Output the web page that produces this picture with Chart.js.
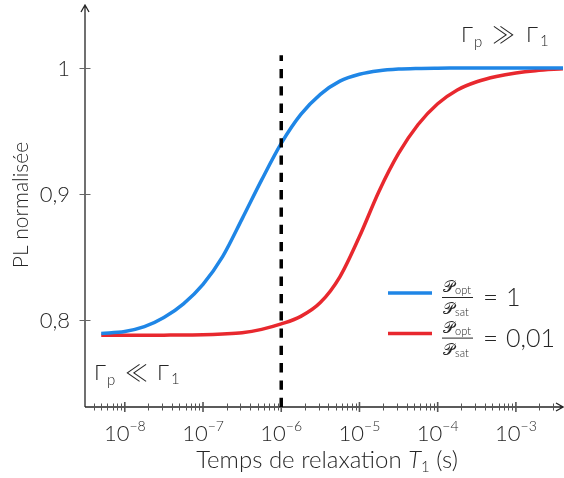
<!DOCTYPE html>
<html>
<head>
<meta charset="utf-8">
<script src="https://cdn.jsdelivr.net/npm/chart.js@4.4.0/dist/chart.umd.min.js"></script>
<style>
html, body { margin: 0; padding: 0; background: #fff; }
</style>
</head>
<body>
<canvas id="mycanvas" width="564" height="478"></canvas>
<script>
// values (T1 in seconds, PL normalised)
var t1 = [5.0e-9, 1.0e-8, 1.78e-8, 3.16e-8, 5.62e-8, 1.0e-7, 1.78e-7, 3.16e-7, 5.62e-7, 1.0e-6, 1.78e-6, 3.16e-6, 5.62e-6, 1.0e-5, 1.78e-5, 3.16e-5, 5.62e-5, 1.0e-4, 1.78e-4, 3.16e-4, 5.62e-4, 1.0e-3, 1.78e-3, 4.0e-3];
var bluePL = [0.789, 0.7905, 0.7943, 0.8016, 0.8125, 0.828, 0.850, 0.880, 0.911, 0.940, 0.963, 0.979, 0.9895, 0.995, 0.9978, 0.9991, 0.9996, 0.9998, 0.9999, 1.0, 1.0, 1.0, 1.0, 1.0];
var redPL = [0.7875, 0.7875, 0.7875, 0.7876, 0.7877, 0.7879, 0.7885, 0.7895, 0.7922, 0.7965, 0.8025, 0.8135, 0.834, 0.866, 0.902, 0.932, 0.955, 0.9715, 0.9825, 0.989, 0.9932, 0.996, 0.9978, 0.9993];
var dashT1 = [1.0e-6, 1.0e-6];
var dashPL = [0.7305, 1.0101];

var xTickExponents = [-8, -7, -6, -5, -4, -3];
var yTicks = [0.8, 0.9, 1];
var yTickLabels = ['0,8', '0,9', '1'];
var legendValues = ['1', '0,01'];

var blue = '#1f86e6';
var red = '#e8282e';
var ink = '#262626';
var FONT = 'Lato, "DejaVu Sans", sans-serif';

function pts(xs, ys) {
	var out = [];
	for (var i in xs) out.push({x: xs[i], y: ys[i]});
	return out;
}

function font(size, italic) {
	return (italic ? 'italic ' : '') + '300 ' + size + 'px ' + FONT;
}

// draws a row of text pieces (sub/superscripts via dy), align 'left' or 'center'
function drawRuns(ctx, x, y, runs, align) {
	var w = 0;
	for (var i in runs) {
		ctx.font = font(runs[i].s, runs[i].i);
		w += ctx.measureText(runs[i].t).width;
	}
	var cx = align == 'center' ? x - w / 2 : x;
	ctx.textAlign = 'left';
	ctx.textBaseline = 'alphabetic';
	for (var j in runs) {
		ctx.font = font(runs[j].s, runs[j].i);
		ctx.fillText(runs[j].t, cx, y + (runs[j].dy || 0));
		cx += ctx.measureText(runs[j].t).width;
	}
}

function put(ctx, t, x, y, s, f) {
	ctx.font = f || font(s);
	ctx.textAlign = 'left';
	ctx.textBaseline = 'alphabetic';
	ctx.fillText(t, x, y);
}

var decor = {
	id: 'decor',
	beforeDatasetsDraw: function(chart) {
		var ctx = chart.ctx, a = chart.chartArea;
		var xs = chart.scales.x, ys = chart.scales.y;
		ctx.save();
		ctx.strokeStyle = ink;
		ctx.fillStyle = ink;
		ctx.lineWidth = 1.3;
		// axes with arrow heads
		ctx.beginPath();
		ctx.moveTo(a.left, a.bottom); ctx.lineTo(a.left, a.top);
		ctx.moveTo(a.left, a.bottom); ctx.lineTo(a.right, a.bottom);
		ctx.moveTo(a.left - 4, a.top + 7); ctx.lineTo(a.left, a.top); ctx.lineTo(a.left + 4, a.top + 7);
		ctx.moveTo(a.right - 7, a.bottom - 4); ctx.lineTo(a.right, a.bottom); ctx.lineTo(a.right - 7, a.bottom + 4);
		ctx.stroke();

		// y ticks
		ctx.strokeStyle = '#666';
		ctx.lineWidth = 1;
		ctx.textAlign = 'right';
		ctx.textBaseline = 'middle';
		ctx.font = font(22);
		for (var i in yTicks) {
			var py = Math.round(ys.getPixelForValue(yTicks[i])) + 0.5;
			ctx.beginPath(); ctx.moveTo(a.left - 5.5, py); ctx.lineTo(a.left + 5.5, py); ctx.stroke();
			ctx.fillText(yTickLabels[i], 70, py);
		}

		// x ticks, minor then major
		ctx.strokeStyle = '#555';
		for (var e = -9; e <= -3; e++) {
			for (var m = 2; m <= 9; m++) {
				var v = m * Math.pow(10, e);
				if (v <= xs.min || v >= xs.max) continue;
				var px = Math.round(xs.getPixelForValue(v)) + 0.5;
				ctx.beginPath(); ctx.moveTo(px, a.bottom - 3.5); ctx.lineTo(px, a.bottom + 3.5); ctx.stroke();
			}
		}
		ctx.lineWidth = 1.6;
		for (var k in xTickExponents) {
			var tx = xs.getPixelForValue(Math.pow(10, xTickExponents[k]));
			ctx.beginPath(); ctx.moveTo(tx, a.bottom - 5); ctx.lineTo(tx, a.bottom + 5); ctx.stroke();
			drawRuns(ctx, tx, 441, [{t: '10', s: 22}, {t: '\u2212' + (-xTickExponents[k]), s: 14, dy: -10}], 'center');
		}

		// axis titles
		drawRuns(ctx, 327, 468, [{t: 'Temps de relaxation ', s: 24}, {t: 'T', s: 24, i: true}, {t: '1', s: 15, dy: 4}, {t: ' (s)', s: 24}], 'center');
		ctx.save();
		ctx.translate(28, 205);
		ctx.rotate(-Math.PI / 2);
		drawRuns(ctx, 0, 0, [{t: 'PL normalisée', s: 21}], 'center');
		ctx.restore();

		// regime labels
		var rel = '300 23px "Noto Sans CJK JP", "DejaVu Sans", sans-serif';
		put(ctx, '\u0393', 461, 42, 22); put(ctx, 'p', 474, 47, 15); put(ctx, '\u226B', 492, 43, 23, rel);
		put(ctx, '\u0393', 526, 42, 22); put(ctx, '1', 540, 46, 15);
		put(ctx, '\u0393', 94, 380, 22); put(ctx, 'p', 107, 385, 15); put(ctx, '\u226A', 125, 381, 23, rel);
		put(ctx, '\u0393', 157, 380, 22); put(ctx, '1', 171, 384, 15);

		// legend with fractions
		var colors = [blue, red];
		for (var r = 0; r < 2; r++) {
			var ly = 293 + r * 40.6;
			ctx.strokeStyle = colors[r];
			ctx.lineWidth = 3.5;
			ctx.beginPath(); ctx.moveTo(388, ly); ctx.lineTo(432, ly); ctx.stroke();
			ctx.fillStyle = ink;
			drawRuns(ctx, 443, ly - 1, [{t: '\uD835\uDCAB', s: 16}, {t: 'opt', s: 11, dy: 2}], 'left');
			ctx.strokeStyle = ink;
			ctx.lineWidth = 1;
			ctx.beginPath(); ctx.moveTo(442, ly + 4.5); ctx.lineTo(473, ly + 4.5); ctx.stroke();
			drawRuns(ctx, 443, ly + 21, [{t: '\uD835\uDCAB', s: 16}, {t: 'sat', s: 11, dy: 2}], 'left');
			put(ctx, '=', 483, ly + 13, 26);
			put(ctx, legendValues[r], 506, ly + 13, 25);
		}
		ctx.restore();
	}
};

var ctx = document.getElementById('mycanvas');

var chart = new Chart(ctx, {
	type: 'line',
	data: {
		datasets: [
			{
				data: pts(dashT1, dashPL),
				borderColor: '#000',
				borderWidth: 3.5,
				borderDash: [9.3, 8],
				pointRadius: 0
			},
			{
				data: pts(t1, bluePL),
				borderColor: blue,
				borderWidth: 3.5,
				pointRadius: 0,
				cubicInterpolationMode: 'monotone'
			},
			{
				data: pts(t1, redPL),
				borderColor: red,
				borderWidth: 3.5,
				pointRadius: 0,
				cubicInterpolationMode: 'monotone'
			}
		]
	},
	options: {
		responsive: false,
		animation: false,
		devicePixelRatio: 1,
		layout: {padding: {left: 85, right: 1, top: 5, bottom: 71}},
		plugins: {legend: {display: false}, tooltip: {enabled: false}},
		scales: {
			x: {type: 'logarithmic', min: 3.1e-9, max: 4.0e-3, display: false},
			y: {type: 'linear', min: 0.7305, max: 1.05, display: false}
		}
	},
	plugins: [decor]
});
</script>
</body>
</html>
